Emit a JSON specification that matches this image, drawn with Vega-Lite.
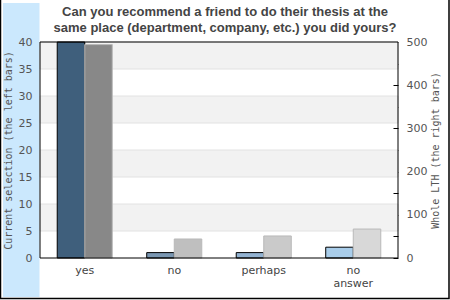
{
  "$schema": "https://vega.github.io/schema/vega-lite/v6.json",
  "width": 358,
  "height": 216,
  "autosize": "none",
  "padding": {"left": 40, "top": 42, "right": 52, "bottom": 42},
  "background": "white",
  "config": {
    "view": {"stroke": null},
    "axis": {"labelFont": "DejaVu Sans", "labelFontSize": 11, "labelColor": "#555555", "titleFont": "DejaVu Sans Mono", "titleFontSize": 10, "titleFontWeight": "normal", "titleColor": "#555555", "zindex": 2}
  },
  "title": {
    "text": ["Can you recommend a friend to do their thesis at the", "same place (department, company, etc.) you did yours?"],
    "font": "Liberation Sans",
    "fontSize": 13,
    "fontWeight": "bold",
    "color": "#444444",
    "anchor": "middle",
    "frame": "group",
    "dx": 6,
    "offset": 0,
    "dy": 44,
    "lineHeight": 16
  },
  "datasets": {
    "answers": [
      {"answer": "yes", "series": "current", "count": 40},
      {"answer": "no", "series": "current", "count": 1},
      {"answer": "perhaps", "series": "current", "count": 1},
      {"answer": "no answer", "series": "current", "count": 2},
      {"answer": "yes", "series": "whole", "count": 494},
      {"answer": "no", "series": "whole", "count": 44},
      {"answer": "perhaps", "series": "whole", "count": 51},
      {"answer": "no answer", "series": "whole", "count": 67}
    ],
    "bands": [
      {"lo": 35, "hi": 40},
      {"lo": 25, "hi": 30},
      {"lo": 15, "hi": 20},
      {"lo": 5, "hi": 10}
    ]
  },
  "layer": [
    {
      "data": {"values": [{}]},
      "mark": {"type": "rect", "fill": "#cbe8fd"},
      "encoding": {
        "x": {"value": -37},
        "x2": {"value": -0.5},
        "y": {"value": -39},
        "y2": {"value": 255}
      }
    },
    {
      "data": {"values": [{}]},
      "mark": {"type": "rect", "fill": null, "stroke": "#000000", "strokeWidth": 1.5},
      "encoding": {
        "x": {"value": -39.5},
        "x2": {"value": 409},
        "y": {"value": -50},
        "y2": {"value": 256.5}
      }
    },
    {
      "layer": [
        {
          "data": {"name": "bands"},
          "mark": {"type": "rect", "fill": "#f2f2f2", "stroke": "#e2e2e2", "strokeWidth": 1},
          "encoding": {
            "y": {
              "field": "lo", "type": "quantitative",
              "scale": {"domain": [0, 40]},
              "axis": {"orient": "left", "zindex": 5, "title": "Current selection (the left bars)", "values": [0, 5, 10, 15, 20, 25, 30, 35, 40], "grid": false, "ticks": false, "domain": false, "labelPadding": 8, "titlePadding": 5}
            },
            "y2": {"field": "hi"}
          }
        },
        {
          "data": {"name": "answers"},
          "transform": [{"filter": "datum.series == 'current'"}],
          "mark": {"type": "bar", "stroke": "#000000", "strokeWidth": 1},
          "encoding": {
            "x": {
              "field": "answer", "type": "nominal",
              "sort": ["yes", "no", "perhaps", "no answer"],
              "scale": {"paddingInner": 0.385, "paddingOuter": 0.1925},
              "axis": {"title": null, "ticks": false, "domain": false, "labelAngle": 0, "labelPadding": 6, "labelColor": "#444444", "labelLineHeight": 13, "labelExpr": "split(datum.label, ' ')"}
            },
            "xOffset": {"field": "series", "type": "nominal", "scale": {"domain": ["current", "whole"]}},
            "y": {
              "field": "count", "type": "quantitative",
              "scale": {"domain": [0, 40]},
              "axis": {"orient": "left", "zindex": 5, "title": "Current selection (the left bars)", "values": [0, 5, 10, 15, 20, 25, 30, 35, 40], "grid": false, "ticks": false, "domain": false, "labelPadding": 8, "titlePadding": 5}
            },
            "color": {
              "field": "answer", "type": "nominal",
              "scale": {"domain": ["yes", "no", "perhaps", "no answer"], "range": ["#3f5f7c", "#7a97b2", "#93b3d2", "#a9cdea"]},
              "legend": null
            }
          }
        }
      ]
    },
    {
      "data": {"name": "answers"},
      "transform": [{"filter": "datum.series == 'whole'"}],
      "mark": {"type": "bar", "stroke": "#b9b9b9", "strokeWidth": 1},
      "encoding": {
        "x": {"field": "answer", "type": "nominal", "sort": ["yes", "no", "perhaps", "no answer"]},
        "xOffset": {"field": "series", "type": "nominal"},
        "y": {
          "field": "count", "type": "quantitative",
          "scale": {"domain": [0, 500]},
          "axis": {"orient": "right", "title": "Whole LTH (the right bars)", "titleAngle": 270, "titleBaseline": "top", "values": [0, 50, 100, 150, 200, 250, 300, 350, 400, 450, 500], "labelExpr": "datum.value % 100 == 0 ? datum.label : ''", "grid": false, "domain": false, "ticks": true, "tickSize": -5, "tickColor": "#000000", "labelPadding": 13, "titlePadding": 4}
        },
        "color": {
          "field": "answer", "type": "nominal",
          "scale": {"domain": ["yes", "no", "perhaps", "no answer"], "range": ["#888888", "#bfbfbf", "#cacaca", "#d8d8d8"]},
          "legend": null
        }
      }
    },
    {
      "data": {"values": [{}]},
      "mark": {"type": "rect", "fill": null, "stroke": "#000000", "strokeWidth": 1},
      "encoding": {
        "x": {"value": 0},
        "x2": {"value": 358},
        "y": {"value": 0},
        "y2": {"value": 216}
      }
    }
  ],
  "resolve": {"scale": {"y": "independent", "color": "independent"}}
}
